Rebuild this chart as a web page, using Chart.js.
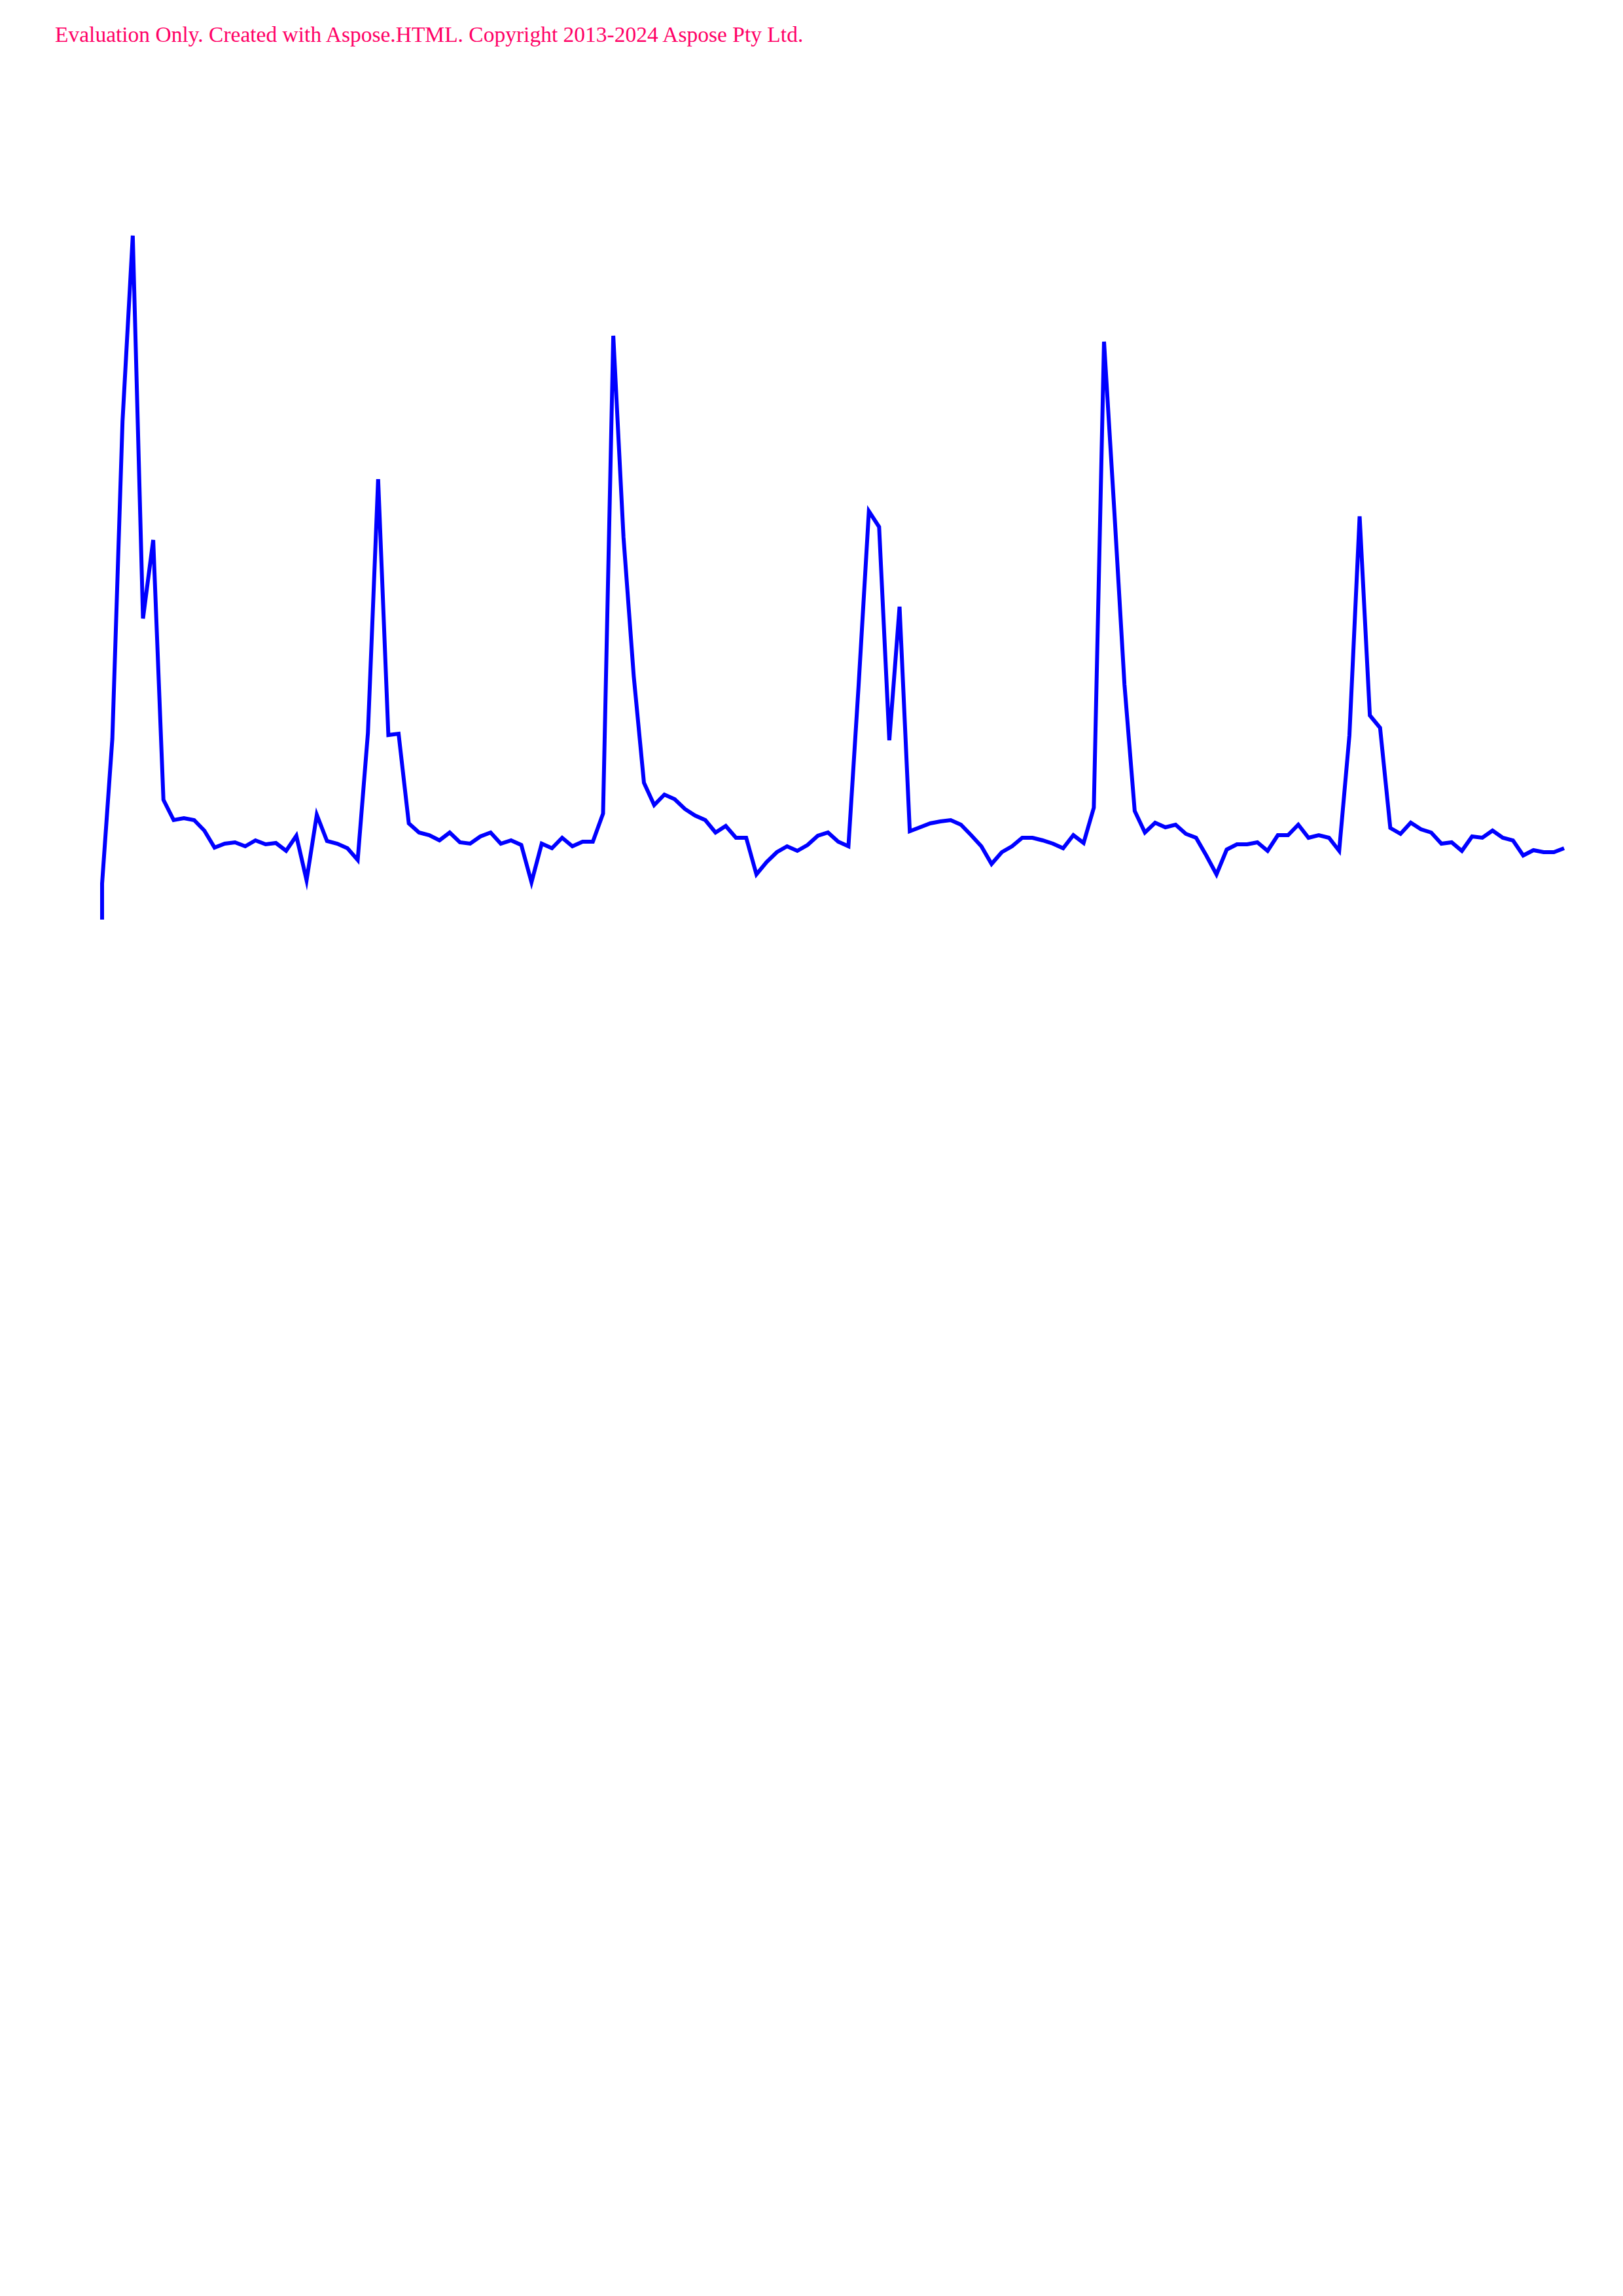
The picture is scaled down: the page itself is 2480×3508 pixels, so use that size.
<!DOCTYPE html>
<html>
<head>
<meta charset="utf-8">
<script src="https://cdn.jsdelivr.net/npm/chart.js@4"></script>
<style>
  html, body { margin: 0; padding: 0; background: #ffffff; width: 2480px; height: 3508px; overflow: hidden; }
  #wm { position: absolute; left: 84px; top: 36px; font-family: "Liberation Serif", "Times New Roman", serif; font-size: 33.5px; line-height: 33.5px; color: #ff0066; white-space: nowrap; }
  #wrap { position: absolute; left: 0; top: 0; width: 2480px; height: 1500px; }
</style>
</head>
<body>
<div id="wm">Evaluation Only. Created with Aspose.HTML. Copyright 2013-2024 Aspose Pty Ltd.</div>
<div id="wrap"><canvas id="c" width="2480" height="1500"></canvas></div>
<script>
// Starting level of the trace (drawn as a vertical start segment)
const startLevel = 0;
// Signal samples (144 samples)
const samples1 = [5.5, 27.6, 76.2, 104.5, 46.0, 58.0, 18.3, 15.2, 15.5, 15.2, 13.6, 11.0,
  11.6, 11.8, 11.2, 12.1, 11.5, 11.7, 10.5, 12.8, 6.0, 16.0, 12.0, 11.6, 10.9, 9.1];
const samples2 = [28.5, 67.3, 28.2, 28.4, 14.7, 13.3, 12.9, 12.1, 13.3, 11.8, 11.6, 12.7,
  13.3, 11.6, 12.1, 11.4, 5.7, 11.6, 10.9, 12.5, 11.2, 11.9, 11.9, 16.2, 89.2];
const samples3 = [58.4, 37.2, 20.9, 17.5, 19.1, 18.4, 16.9, 15.9, 15.2, 13.3, 14.3, 12.5,
  12.5, 6.9, 8.8, 10.3, 11.2, 10.5, 11.4, 12.8, 13.3, 11.9, 11.2, 35.9, 62.4, 60.0];
const samples4 = [27.4, 47.8, 13.5, 14.1, 14.7, 15.0, 15.2, 14.5, 12.9, 11.2, 8.5, 10.3,
  11.2, 12.5, 12.5, 12.1, 11.6, 10.9, 12.9, 11.7, 17.1, 88.3, 62.6, 35.9, 16.6, 13.3];
const samples5 = [14.8, 14.1, 14.5, 13.1, 12.5, 9.8, 6.9, 10.7, 11.5, 11.5, 11.8, 10.5,
  12.9, 12.9, 14.5, 12.5, 12.9, 12.5, 10.5, 28.1, 61.6, 31.2, 29.3, 14.0, 13.1, 14.8];
const samples6 = [13.8, 13.3, 11.6, 11.8, 10.5, 12.7, 12.5, 13.6, 12.5, 12.1, 9.8, 10.6,
  10.3, 10.3, 10.9];

const samples = [].concat(samples1, samples2, samples3, samples4, samples5, samples6);
const yMin = 0;
const yMax = 105;

const points = [{ x: 0, y: startLevel }].concat(samples.map((v, i) => ({ x: i, y: v })));

new Chart(document.getElementById('c'), {
  type: 'line',
  data: {
    datasets: [{
      data: points,
      borderColor: '#0000ff',
      borderWidth: 6,
      pointRadius: 0,
      pointHoverRadius: 0,
      tension: 0,
      fill: false,
      clip: false,
      borderJoinStyle: 'miter',
      borderCapStyle: 'butt'
    }]
  },
  options: {
    responsive: false,
    animation: false,
    events: [],
    layout: { padding: { left: 156, right: 90, top: 355, bottom: 95 } },
    plugins: { legend: { display: false }, title: { display: false }, tooltip: { enabled: false } },
    scales: {
      x: { type: 'linear', display: false, min: 0, max: samples.length - 1 },
      y: { type: 'linear', display: false, min: yMin, max: yMax }
    }
  }
});
</script>
</body>
</html>
